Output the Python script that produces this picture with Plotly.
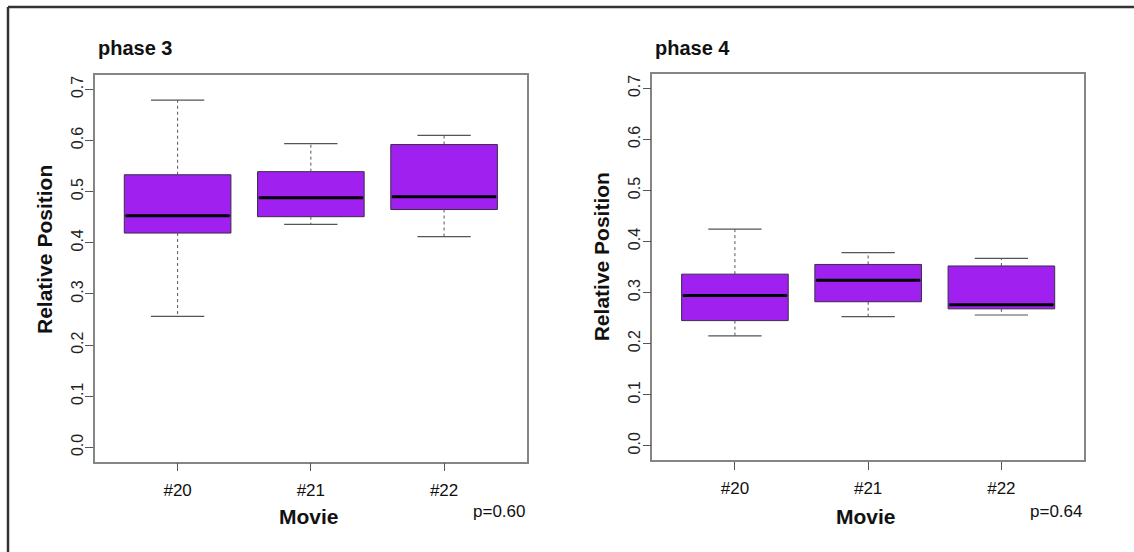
import plotly.graph_objects as go

W, H = 1134, 552

movies = ["#20", "#21", "#22"]
xpos = [1, 2, 3]

# phase 3 box statistics
p3_lower = [0.256, 0.436, 0.412]
p3_q1 = [0.419, 0.451, 0.465]
p3_median = [0.453, 0.488, 0.490]
p3_q3 = [0.533, 0.539, 0.592]
p3_upper = [0.679, 0.594, 0.610]

# phase 4 box statistics
p4_lower = [0.215, 0.253, 0.256]
p4_q1 = [0.245, 0.282, 0.268]
p4_median = [0.294, 0.324, 0.276]
p4_q3 = [0.336, 0.355, 0.352]
p4_upper = [0.424, 0.378, 0.367]

panel_titles = ["phase 3", "phase 4"]
p_values = ["p=0.60", "p=0.64"]
y_ticks = [0.0, 0.1, 0.2, 0.3, 0.4, 0.5, 0.6, 0.7]
y_ticklabels = ["0.0", "0.1", "0.2", "0.3", "0.4", "0.5", "0.6", "0.7"]

FONT = "Liberation Sans, Arial, Helvetica, sans-serif"
PURPLE = "#A020F0"
BOXW = 0.8
CAPW = 0.4

fig = go.Figure()

panels = [
    dict(xa="x", ya="y", lower=p3_lower, q1=p3_q1, med=p3_median, q3=p3_q3, upper=p3_upper),
    dict(xa="x2", ya="y2", lower=p4_lower, q1=p4_q1, med=p4_median, q3=p4_q3, upper=p4_upper),
]

for p in panels:
    # box bodies
    fig.add_trace(go.Box(
        x=xpos, q1=p["q1"], median=p["med"], q3=p["q3"],
        lowerfence=p["q1"], upperfence=p["q3"],
        width=BOXW, whiskerwidth=0,
        fillcolor=PURPLE, line=dict(color="#3a2a48", width=1),
        xaxis=p["xa"], yaxis=p["ya"], hoverinfo="skip", showlegend=False,
    ))
    # dashed whiskers
    wx, wy = [], []
    for i, xv in enumerate(xpos):
        wx += [xv, xv, None, xv, xv, None]
        wy += [p["q3"][i], p["upper"][i], None, p["q1"][i], p["lower"][i], None]
    fig.add_trace(go.Scatter(
        x=wx, y=wy, mode="lines",
        line=dict(color="#555555", width=1, dash="3px,3px"),
        xaxis=p["xa"], yaxis=p["ya"], hoverinfo="skip", showlegend=False,
    ))
    # caps
    cx, cy = [], []
    for i, xv in enumerate(xpos):
        cx += [xv - CAPW / 2, xv + CAPW / 2, None, xv - CAPW / 2, xv + CAPW / 2, None]
        cy += [p["upper"][i], p["upper"][i], None, p["lower"][i], p["lower"][i], None]
    fig.add_trace(go.Scatter(
        x=cx, y=cy, mode="lines",
        line=dict(color="#555555", width=1.2),
        xaxis=p["xa"], yaxis=p["ya"], hoverinfo="skip", showlegend=False,
    ))
    # thick medians
    mx, my = [], []
    for i, xv in enumerate(xpos):
        mx += [xv - BOXW / 2 + 0.01, xv + BOXW / 2 - 0.01, None]
        my += [p["med"][i], p["med"][i], None]
    fig.add_trace(go.Scatter(
        x=mx, y=my, mode="lines",
        line=dict(color="#000000", width=3),
        xaxis=p["xa"], yaxis=p["ya"], hoverinfo="skip", showlegend=False,
    ))

# panel pixel geometry
L1, R1, T1, B1 = 95, 526.7, 75, 461.7
L2, R2, T2, B2 = 652.3, 1084, 74, 460

def xd(a, b):
    return [a / W, b / W]

def yd(t, b):
    return [1 - b / H, 1 - t / H]

axis_common = dict(
    showgrid=False, zeroline=False, showline=True, mirror=True,
    linecolor="#858585", linewidth=1.5,
    ticks="outside", ticklen=8, tickwidth=1.2, tickcolor="#555555",
)

xfont = dict(size=17, family=FONT, color="#111111")
yfont = dict(size=16, family=FONT, color="#222222")

fig.update_layout(
    width=W, height=H,
    margin=dict(l=0, r=0, t=0, b=0),
    paper_bgcolor="white", plot_bgcolor="white",
    showlegend=False,
    font=dict(family=FONT, color="#111111"),
    xaxis=dict(domain=xd(L1, R1), range=[0.38, 3.62], tickvals=xpos, ticktext=movies,
               tickfont=xfont, ticklabelstandoff=4, anchor="y", **axis_common),
    yaxis=dict(domain=yd(T1, B1), range=[-0.028, 0.728], tickvals=y_ticks, ticktext=y_ticklabels,
               tickangle=-90, tickfont=yfont, ticklabelstandoff=-4, anchor="x", **axis_common),
    xaxis2=dict(domain=xd(L2, R2), range=[0.38, 3.62], tickvals=xpos, ticktext=movies,
                tickfont=xfont, ticklabelstandoff=4, anchor="y2", **axis_common),
    yaxis2=dict(domain=yd(T2, B2), range=[-0.028, 0.728], tickvals=y_ticks, ticktext=y_ticklabels,
                tickangle=-90, tickfont=yfont, ticklabelstandoff=-4, anchor="x2", **axis_common),
)

ann = []
for (Lp, Rp, Tp, Bp), title, pv, ylab_y in [((L1, R1, T1, B1), panel_titles[0], p_values[0], 250),
                                             ((L2, R2, T2, B2), panel_titles[1], p_values[1], 257)]:
    ann.append(dict(text="<b>%s</b>" % title, x=(Lp + 1) / W, y=1 - 48 / H, xref="paper", yref="paper",
                    xanchor="left", yanchor="middle", showarrow=False,
                    font=dict(size=20, family=FONT, color="#111111")))
    ann.append(dict(text="<b>Relative Position</b>", x=(Lp - 51) / W, y=1 - ylab_y / H,
                    xref="paper", yref="paper", xanchor="center", yanchor="middle",
                    textangle=-90, showarrow=False,
                    font=dict(size=21, family=FONT, color="#111111")))
    ann.append(dict(text="<b>Movie</b>", x=((Lp + Rp) / 2 - 2) / W, y=1 - 516 / H,
                    xref="paper", yref="paper", xanchor="center", yanchor="middle",
                    showarrow=False, font=dict(size=21, family=FONT, color="#111111")))
    ann.append(dict(text=pv, x=Rp / W, y=1 - 511.5 / H, xref="paper", yref="paper",
                    xanchor="right", yanchor="middle", showarrow=False,
                    font=dict(size=17, family=FONT, color="#111111")))

fig.update_layout(annotations=ann)

# outer frame (top and left edges visible in the picture)
fig.add_shape(type="line", xref="paper", yref="paper", x0=8 / W, x1=1.02, y0=1 - 7 / H, y1=1 - 7 / H,
              line=dict(color="#333333", width=2.5))
fig.add_shape(type="line", xref="paper", yref="paper", x0=8 / W, x1=8 / W, y0=-0.02, y1=1 - 7 / H,
              line=dict(color="#333333", width=2.5))

fig.write_html("out.html")
